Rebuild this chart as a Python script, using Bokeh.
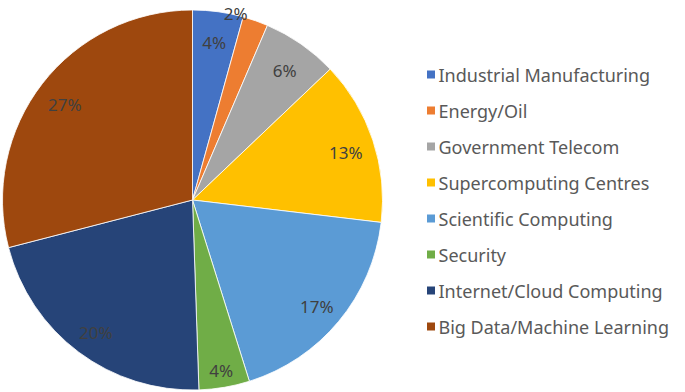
import numpy as np
from bokeh.plotting import figure
from bokeh.models import Range1d, ColumnDataSource
from bokeh.core.properties import value
from bokeh.embed import file_html
from bokeh.resources import INLINE

categories = ["Industrial Manufacturing", "Energy/Oil", "Government Telecom",
              "Supercomputing Centres", "Scientific Computing", "Security",
              "Internet/Cloud Computing", "Big Data/Machine Learning"]
shares = [4, 2, 6, 13, 17, 4, 20, 27]
labels = ["4%", "2%", "6%", "13%", "17%", "4%", "20%", "27%"]
colors = ["#4472C4", "#ED7D31", "#A5A5A5", "#FFC000", "#5B9BD5", "#70AD47", "#264478", "#9E480E"]

W, H = 685, 392
cx, cy, R = 192, 192.5, 190

vals = np.array(shares, dtype=float)
frac = vals / vals.sum()
cum = np.concatenate([[0], np.cumsum(frac)])
# clockwise from 12 o'clock
th0 = cum[:-1] * 2 * np.pi
th1 = cum[1:] * 2 * np.pi
start = np.pi / 2 - th0
end = np.pi / 2 - th1

p = figure(width=W, height=H, output_backend="svg", toolbar_location=None,
           x_range=Range1d(0, W), y_range=Range1d(0, H), min_border=0)
p.axis.visible = False
p.grid.visible = False
p.outline_line_color = None
p.background_fill_color = "white"

src = ColumnDataSource(dict(start=start, end=end, color=colors))
p.wedge(x=cx, y=cy, radius=R, start_angle="start", end_angle="end", direction="clock",
        fill_color="color", line_color="white", line_width=0.8, source=src)

# data labels
mid = (th0 + th1) / 2
lx, ly = [], []
for i, f in enumerate(frac):
    if f < 0.03:
        a = th0[i] - 0.045
        r = R + 3
        dy = -2
    elif f < 0.05 and i > 0:
        a = mid[i]
        r = R * 0.9
        dy = -2
    else:
        a = mid[i]
        r = R * 0.85
        dy = -3
    lx.append(cx + r * np.sin(a))
    ly.append(cy + r * np.cos(a) + dy)
p.text(x=lx, y=ly, text=labels, text_align="center", text_baseline="middle",
       text_font=value("Noto Sans"), text_font_size="17px", text_color="#404040")

# legend
n = len(categories)
leg_y = [H - 74 - 36 * i for i in range(n)]
p.rect(x=[430.5] * n, y=leg_y, width=8, height=8, fill_color=colors, line_color=None)
p.text(x=[438] * n, y=[v - 0.5 for v in leg_y], text=categories, text_align="left", text_baseline="middle",
       text_font=value("Noto Sans"), text_font_size="18px", text_color="#595959")

open("out.html", "w").write(file_html(p, INLINE))
